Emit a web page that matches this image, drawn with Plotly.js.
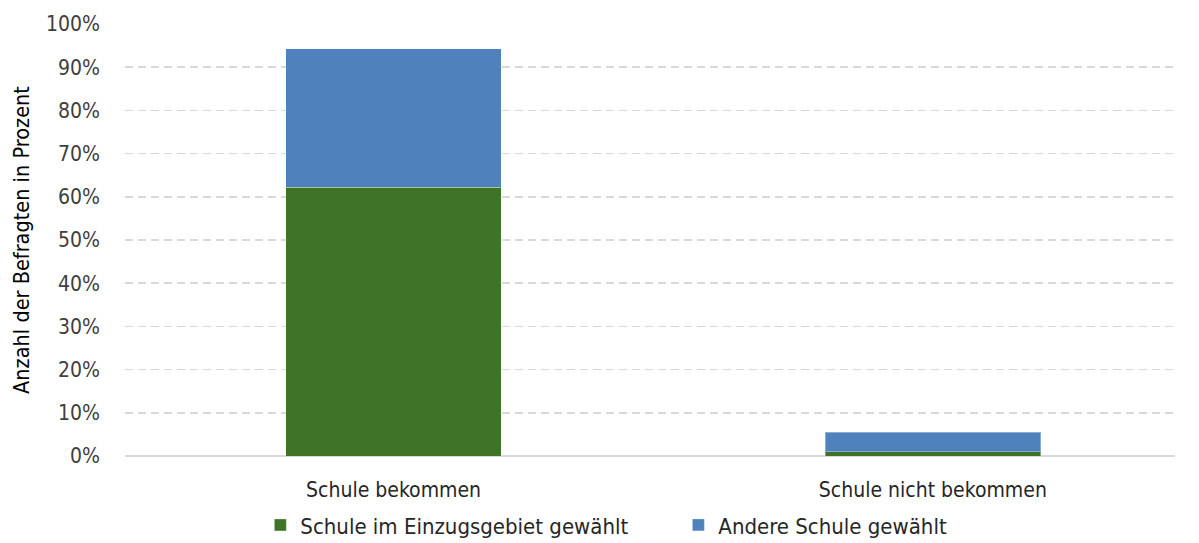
<!DOCTYPE html>
<html>
<head>
<meta charset="utf-8">
<script src="https://cdn.plot.ly/plotly-3.0.1.min.js"></script>
<style>html,body{margin:0;padding:0;background:#fff}#chart{width:1199px;height:543px}</style>
</head>
<body>
<div id="chart"></div>
<script>
const categories = ["Schule bekommen", "Schule nicht bekommen"];
const seriesNames = ["Schule im Einzugsgebiet gewählt", "Andere Schule gewählt"];
const einzugsgebiet = [62.2, 1.0];
const andere = [32.1, 4.5];
const yTickVals = [0,10,20,30,40,50,60,70,80,90,100];
const yTickText = ["0%","10%","20%","30%","40%","50%","60%","70%","80%","90%","100%"];

const FONT = "'DejaVu Sans Condensed', 'Liberation Sans Narrow', sans-serif";
const traces = [
  {type:'bar', name:seriesNames[0], x:categories, y:einzugsgebiet, width:0.4,
   marker:{color:'#3e7328', line:{color:'rgba(255,255,255,0.35)', width:1}}},
  {type:'bar', name:seriesNames[1], x:categories, y:andere, width:0.4,
   marker:{color:'#4f81bc', line:{color:'rgba(255,255,255,0.35)', width:1}}}
];
const layout = {
  width:1199, height:543, barmode:'stack',
  margin:{l:125, r:24, t:24, b:87, autoexpand:false},
  paper_bgcolor:'#fff', plot_bgcolor:'#fff',
  font:{family:FONT, size:21, color:'#404040'},
  showlegend:true,
  legend:{orientation:'h', x:0.527, xanchor:'center', y:-0.16, yanchor:'middle',
          font:{family:FONT, size:22, color:'#262626'}, entrywidth:373, entrywidthmode:'pixels',
          itemwidth:30, traceorder:'normal'},
  xaxis:{type:'category', range:[-0.498, 1.449], showgrid:false, zeroline:false,
         showline:false, ticks:'', ticklabelstandoff:19,
         tickfont:{family:FONT, size:21, color:'#262626'}, automargin:false},
  yaxis:{range:[0,100], tickvals:yTickVals, ticktext:yTickText, showgrid:true,
         gridcolor:'#d9d9d9', griddash:'8px,5px', gridwidth:1.6, zeroline:true,
         zerolinecolor:'#d9d9d9', zerolinewidth:2, showline:false, ticks:'', ticklen:0,
         ticklabelstandoff:24,
         tickfont:{family:FONT, size:21, color:'#404040'}, automargin:false,
         title:{text:'Anzahl der Befragten in Prozent', standoff:10,
                font:{family:FONT, size:21.5, color:'#000'}}}
};
Plotly.newPlot('chart', traces, layout, {displayModeBar:false, staticPlot:true});
</script>
</body>
</html>
